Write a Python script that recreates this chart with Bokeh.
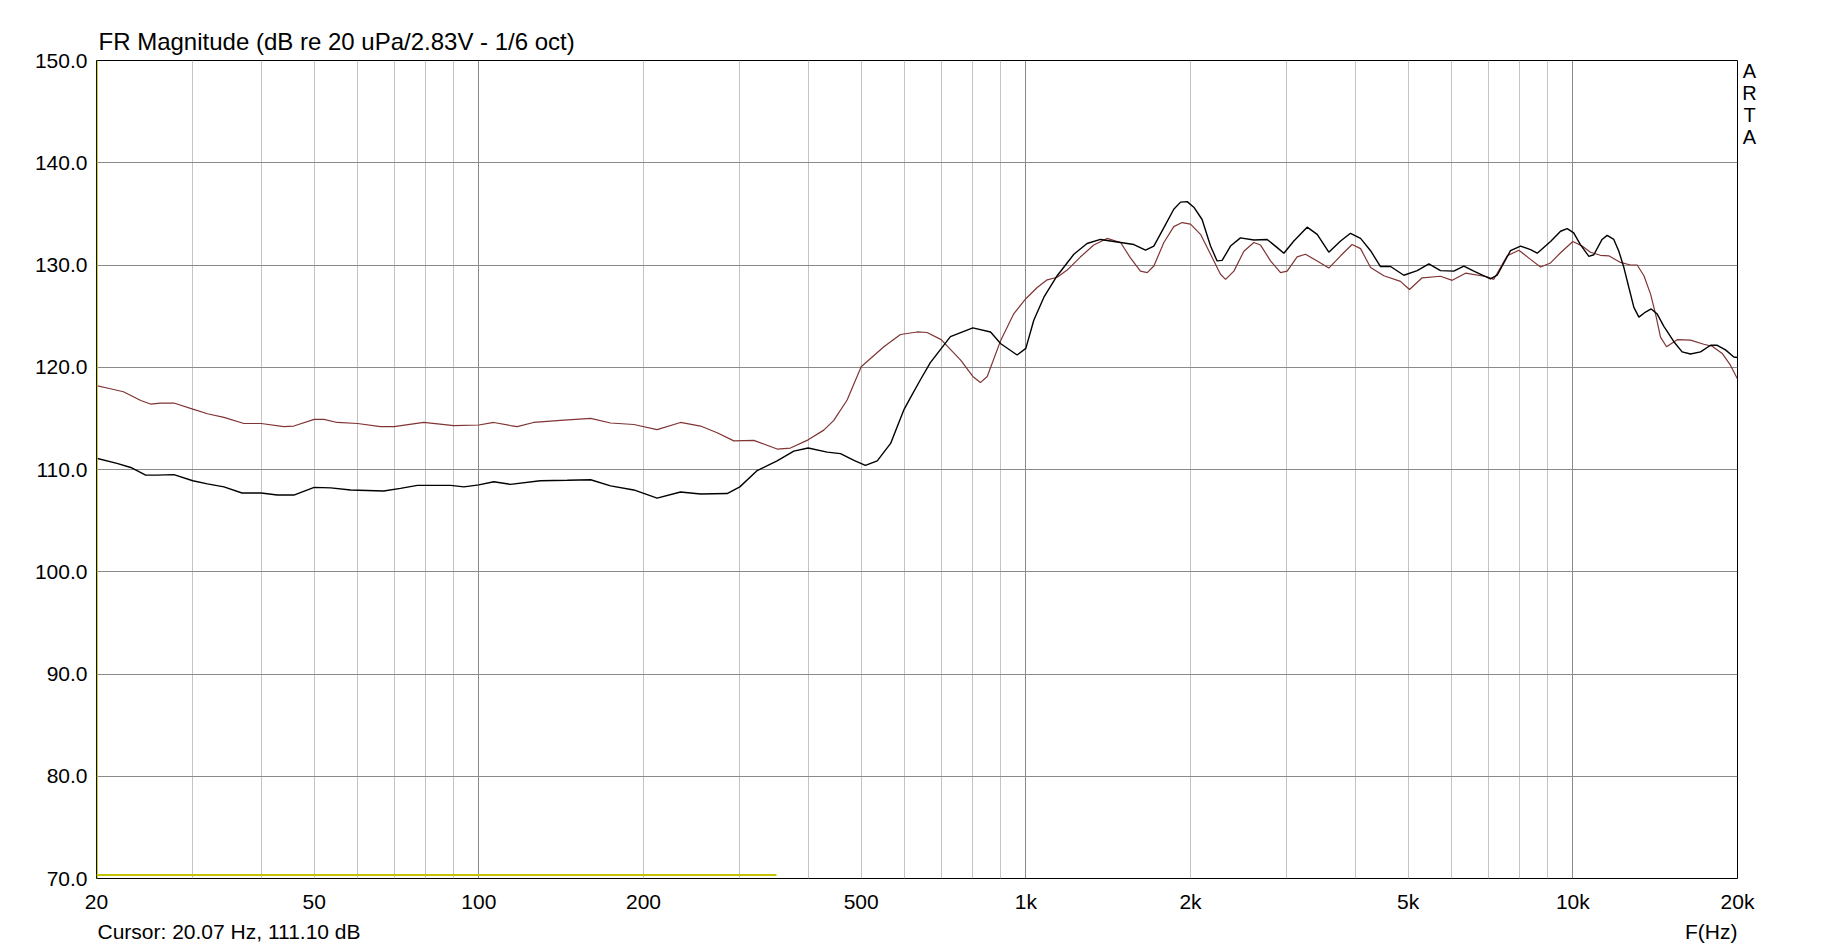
from bokeh.plotting import figure
from bokeh.models import FixedTicker, Grid, Label, Span, PrintfTickFormatter
from bokeh.embed import file_html
from bokeh.resources import INLINE

FONT = "Liberation Sans"

# ---- data ----
black_freq = [20, 21.8, 23.1, 24.6, 25.8, 27.7, 30, 31.9, 34.2, 36.9, 40, 42.8, 45.9, 50, 53.6, 58.3, 67,
              71.9, 77.2, 88.8, 93.9, 100, 106.5, 114.2, 129.5, 145.1, 160.1, 174.1, 192, 211.8, 233.7,
              254.3, 284.4, 300, 322.8, 351, 376.5, 400, 433.4, 458.3, 485, 509, 535, 566, 598, 615,
              642, 669, 728, 800, 862, 900, 964, 1000, 1034, 1079, 1141, 1224, 1294, 1369,
              1490, 1576, 1655, 1714, 1788, 1864, 1918, 1972, 2028, 2100, 2176, 2237, 2285, 2367, 2468,
              2611, 2762, 2881, 2963, 3090, 3268, 3409, 3580, 3762, 3922, 4092, 4268, 4450, 4643, 4909,
              5194, 5455, 5728, 6058, 6320, 6592, 7070, 7272, 7692, 8024, 8368, 8608, 9104, 9496, 9766,
              10037, 10323, 10698, 10924, 11309, 11554, 11882, 12137, 12397, 12660, 12930, 13205, 13580,
              13910, 14265, 14670, 15300, 15843, 16410, 17120, 17854, 18362, 19016, 19695, 20000]
black_db = [111.1, 110.6, 110.2, 109.45, 109.45, 109.5, 108.9, 108.6, 108.3, 107.7, 107.7, 107.5, 107.5,
            108.25, 108.2, 108.0, 107.9, 108.15, 108.45, 108.45, 108.3, 108.5, 108.8, 108.55, 108.9,
            108.95, 109.0, 108.4, 108.0, 107.2, 107.8, 107.6, 107.65, 108.3, 109.9, 110.85, 111.8, 112.1,
            111.7, 111.55, 110.9, 110.4, 110.85, 112.55, 115.8, 117.0, 118.8, 120.45, 123.0, 123.85,
            123.45, 122.3, 121.2, 121.85, 124.6, 126.85, 128.95, 131.05, 132.1, 132.5,
            132.2, 132.0, 131.45, 131.85, 133.65, 135.45, 136.15, 136.2, 135.65, 134.45, 131.85, 130.4,
            130.45, 131.85, 132.65, 132.45, 132.5, 131.7, 131.15, 132.35, 133.7, 133.0, 131.25, 132.35,
            133.1, 132.6, 131.4, 129.85, 129.85, 129.0, 129.45, 130.1, 129.45, 129.4, 129.9, 129.4,
            128.65, 129.0, 131.4, 131.85, 131.5, 131.15, 132.3, 133.3, 133.55, 133.15, 132.0, 130.85,
            131.0, 132.5, 132.9, 132.5, 131.35, 129.75, 127.8, 125.85, 124.9, 125.4, 125.7, 125.2, 124.0,
            122.5, 121.5, 121.3, 121.5, 122.15, 122.15, 121.7, 121.0, 120.95]

red_freq = [20, 21.2, 22.4, 24.1, 25.1, 26.2, 27.7, 30, 31.9, 34.2, 37.2, 40, 44.0, 45.9, 50, 52.1, 55.1,
            60, 66.1, 70, 79.3, 90, 100, 106.5, 114.2, 117.5, 125.9, 141, 160.1, 174.1, 192, 211.8,
            233.7, 254.3, 272.7, 292.5, 318.2, 351, 371.2, 400, 427.2, 445.6, 471.3, 500, 550.1, 589.9,
            633, 660, 700, 760, 800, 826, 850, 900, 951, 1000, 1049, 1094, 1141, 1190, 1259, 1331, 1408,
            1490, 1553, 1620, 1667, 1714, 1788, 1864, 1931, 2000, 2086, 2176, 2269, 2318, 2401, 2504,
            2611, 2686, 2801, 2922, 3004, 3133, 3245, 3409, 3580, 3762, 3949, 4092, 4268, 4514, 4840,
            5028, 5304, 5728, 6018, 6366, 6972, 7170, 7586, 7968, 8368, 8728, 9104, 9496, 10000, 10397,
            10772, 11232, 11635, 12218, 12745, 13110, 13488, 13872, 14166, 14464, 14835, 15515, 16410,
            17356, 17980, 18752, 19413, 20000]
red_db = [118.2, 117.9, 117.6, 116.75, 116.4, 116.5, 116.5, 115.9, 115.45, 115.1, 114.5, 114.5, 114.2,
          114.25, 114.9, 114.9, 114.6, 114.5, 114.2, 114.2, 114.6, 114.3, 114.35, 114.6, 114.3, 114.2,
          114.6, 114.8, 115.0, 114.55, 114.4, 113.9, 114.6, 114.25, 113.6, 112.8, 112.85, 112.0, 112.1,
          112.9, 113.85, 114.8, 116.8, 120.05, 122.0, 123.2, 123.45, 123.4, 122.7, 120.7, 119.1, 118.5,
          119.1, 122.65, 125.25, 126.7, 127.8, 128.55, 128.8, 129.5, 130.8, 131.95, 132.6,
          132.2, 130.7, 129.4, 129.25, 129.9, 132.2, 133.75, 134.15, 134.0, 133.0, 131.05, 129.1, 128.6,
          129.4, 131.35, 132.2, 131.95, 130.4, 129.25, 129.4, 130.8, 131.05, 130.4, 129.7, 130.9, 132.0,
          131.6, 129.75, 128.95, 128.4, 127.6, 128.75, 128.9, 128.5, 129.2, 128.85, 128.6, 130.9, 131.45,
          130.55, 129.8, 130.2, 131.2, 132.3, 131.85, 131.25, 130.95, 130.9, 130.25, 130.0, 130.0,
          128.95, 127.15, 125.2, 122.95, 122.0, 122.7, 122.65, 122.25, 122.05, 121.35, 120.2, 118.85]

yellow_freq = [20, 350]
yellow_db = [70.35, 70.35]
cursor_freq = 20.07

x_tick_vals = [20, 50, 100, 200, 500, 1000, 2000, 5000, 10000, 20000]
x_tick_labels = ["20", "50", "100", "200", "500", "1k", "2k", "5k", "10k", "20k"]
y_tick_vals = [70, 80, 90, 100, 110, 120, 130, 140, 150]
x_minor_grid = [30, 40, 50, 60, 70, 80, 90, 200, 300, 400, 500, 600, 700, 800, 900,
                2000, 3000, 4000, 5000, 6000, 7000, 8000, 9000]
x_major_grid = [100, 1000, 10000]

title_text = "FR Magnitude (dB re 20 uPa/2.83V - 1/6 oct)"
cursor_text = "Cursor: 20.07 Hz, 111.10 dB"
xunit_text = "F(Hz)"
brand_text = "A\nR\nT\nA"

# ---- figure ----
p = figure(width=1827, height=948, x_axis_type="log", x_range=(20, 20000), y_range=(70, 150),
           output_backend="svg", toolbar_location=None, title=None,
           min_border_left=96, min_border_right=90, min_border_top=60, min_border_bottom=70)
p.background_fill_color = "white"
p.border_fill_color = "white"
p.outline_line_color = "black"
p.outline_line_width = 1
p.outline_line_alpha = 1.0

for ax in (p.xaxis[0], p.yaxis[0]):
    ax.axis_line_color = None
    ax.major_tick_line_color = None
    ax.minor_tick_line_color = None
    ax.major_tick_out = 0
    ax.major_tick_in = 0
    ax.major_label_text_font = FONT
    ax.major_label_text_font_size = "21px"
    ax.major_label_text_color = "black"

p.xaxis.ticker = FixedTicker(ticks=x_tick_vals)
p.xaxis.major_label_overrides = {v: lab for v, lab in zip(x_tick_vals, x_tick_labels)}
p.xaxis.major_label_standoff = 11
p.yaxis.ticker = FixedTicker(ticks=y_tick_vals)
p.yaxis.formatter = PrintfTickFormatter(format="%.1f")
p.yaxis.major_label_standoff = 9

p.xgrid.ticker = FixedTicker(ticks=x_minor_grid)
p.xgrid.grid_line_color = "#c4c4c4"
p.xgrid.grid_line_width = 1
p.add_layout(Grid(dimension=0, ticker=FixedTicker(ticks=x_major_grid),
                  grid_line_color="#8a8a8a", grid_line_width=1))
p.ygrid.ticker = FixedTicker(ticks=y_tick_vals[1:-1])
p.ygrid.grid_line_color = "#8a8a8a"
p.ygrid.grid_line_width = 1

p.line(yellow_freq, yellow_db, line_color="#c4c400", line_width=2)
p.add_layout(Span(location=cursor_freq, dimension="height", line_color="#c4c400", line_width=1))
p.line(red_freq, red_db, line_color="#803434", line_width=1.2)
p.line(black_freq, black_db, line_color="black", line_width=1.4)

# ---- texts, placed in the side panels so they are not clipped to the frame ----
p.add_layout(Label(x=20, y=151.9, x_offset=2, text=title_text,
                   text_font=FONT, text_font_size="24px", text_color="black",
                   text_baseline="alphabetic", text_align="left"), "above")
p.add_layout(Label(x=20000, y=64.8, text=xunit_text,
                   text_font=FONT, text_font_size="21px", text_color="black",
                   text_baseline="alphabetic", text_align="right"), "above")
p.add_layout(Label(x=20, y=64.8, x_offset=1, text=cursor_text,
                   text_font=FONT, text_font_size="21px", text_color="black",
                   text_baseline="alphabetic", text_align="left"), "below")
p.add_layout(Label(x=20000, y=150.03, x_offset=12, text=brand_text,
                   text_font=FONT, text_font_size="20px", text_color="black",
                   text_line_height=1.0,
                   text_baseline="top", text_align="center"), "right")

open("out.html", "w").write(file_html(p, INLINE))
